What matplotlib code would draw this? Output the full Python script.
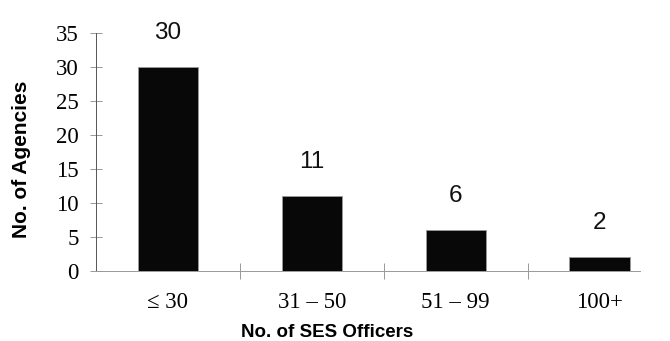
import matplotlib
matplotlib.use("Agg")
import matplotlib.pyplot as plt

categories = ["\u2264 30", "31 \u2013 50", "51 \u2013 99", "100+"]
values = [30, 11, 6, 2]
y_ticks = [0, 5, 10, 15, 20, 25, 30, 35]

fig = plt.figure(figsize=(6.7, 3.41), dpi=100)
ax = fig.add_axes([96/670, 70/341, 544/670, 238/341])

x = list(range(len(categories)))
bars = ax.bar(x, values, width=0.42, color="#080808", edgecolor="#9a9a9a", linewidth=0.6, zorder=3)

ax.set_xlim(-0.5, 3.28)
ax.set_ylim(0, 35)

for xi, v in zip(x, values):
    ax.annotate(str(v), (xi, v), xytext=(0, 34), textcoords="offset pixels",
                ha="center", va="center", fontsize=17.5, family="Liberation Sans", color="#111111")

ax.set_yticks(y_ticks)
ax.set_yticklabels([str(t) for t in y_ticks], family="Liberation Serif", fontsize=16.5)
ax.tick_params(axis="y", direction="inout", length=9, width=0.6, color="#888888", pad=8)

ax.set_xticks(x)
ax.set_xticklabels(categories, family="Liberation Serif", fontsize=16.5)
ax.tick_params(axis="x", which="major", length=0, pad=15)
ax.set_xticks([0.5, 1.5, 2.5], minor=True)
ax.tick_params(axis="x", which="minor", direction="inout", length=12, width=0.6, color="#888888")

for s in ["top", "right"]:
    ax.spines[s].set_visible(False)
ax.spines["left"].set_color("#555555")
ax.spines["left"].set_linewidth(0.7)
ax.spines["bottom"].set_color("#999999")
ax.spines["bottom"].set_linewidth(0.7)

ax.set_ylabel("No. of Agencies", family="Liberation Sans", fontweight="bold", fontsize=15, labelpad=18)
ax.set_xlabel("No. of SES Officers", family="Liberation Sans", fontweight="bold", fontsize=13.5, labelpad=8)
ax.xaxis.label.set_x(0.425)
ax.yaxis.label.set_y(0.47)

fig.savefig("out.png", dpi=100)
